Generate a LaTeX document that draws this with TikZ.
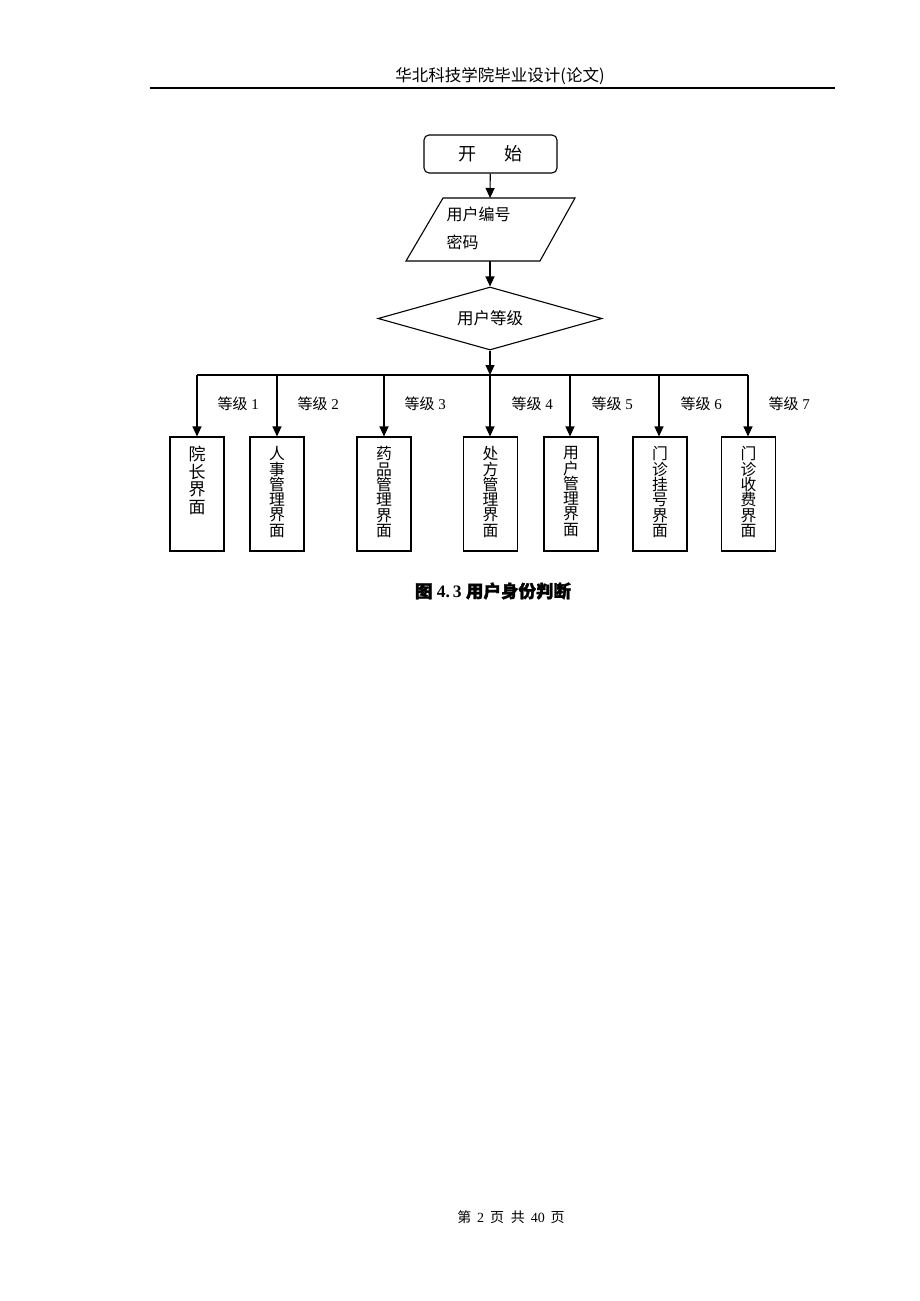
\documentclass[tikz,border=0pt]{standalone}
\usepackage{fontspec}
\setmainfont{Liberation Serif}
\newfontfamily\cjk{Noto Sans CJK SC}
\newfontfamily\cjkb[FakeBold=1.5]{Noto Sans CJK SC}
\usetikzlibrary{arrows.meta,shapes.geometric}
\begin{document}
\begin{tikzpicture}[x=1pt,y=-1pt,line width=1.1pt,
  >={Triangle[length=10pt,width=9pt]},
  box/.style={draw,minimum width=54pt,minimum height=114pt,inner sep=0pt},
  lbl/.style={font=\fontsize{15}{15}\selectfont,anchor=west,inner sep=0pt},
  vt/.style={font=\cjk\fontsize{15.8}{15.3}\selectfont,align=center,anchor=north,inner sep=0pt},
  vtb/.style={font=\cjk\fontsize{17}{17.5}\selectfont,align=center,anchor=north,inner sep=0pt},
  txt/.style={font=\cjk\fontsize{16}{16}\selectfont,inner sep=0pt}]
\useasboundingbox (0,0) rectangle (920,1301);
% header
\node[txt,font=\cjk\fontsize{16.5}{16.5}\selectfont] (hdr) at (500,76) {华北科技学院毕业设计(论文)};
\coordinate (hl) at (150,88);
\coordinate (hr) at (835,88);
\draw[line width=1.2pt] (hl) -- (hr);
% start
\node[draw,rounded corners=5pt,minimum width=133pt,minimum height=38pt,font=\cjk\fontsize{18}{18}\selectfont] (start) at (490.5,154) {开\hspace{1.6em}始};
% input parallelogram
\coordinate (p1) at (406,261);
\coordinate (p2) at (540,261);
\coordinate (p3) at (575,198);
\coordinate (p4) at (443,198);
\draw (p1) -- (p2) -- (p3) -- (p4) -- cycle;
\coordinate (inT) at (490,198);
\coordinate (inB) at (490,261);
\node[txt,anchor=west] (in1) at (446,214) {用户编号};
\node[txt,anchor=west] (in2) at (446,242) {密码};
\draw[->] (start) -- (inT);
% diamond
\node[draw,diamond,aspect=3.55,minimum width=224pt,minimum height=63pt,inner sep=0pt,font=\cjk\fontsize{16.5}{16.5}\selectfont] (dia) at (490,318.5) {用户等级};
\draw[->] (inB) -- (dia.north);
% bus
\coordinate (c1) at (197,375);
\coordinate (c2) at (277,375);
\coordinate (c3) at (384,375);
\coordinate (c4) at (490,375);
\coordinate (c5) at (570,375);
\coordinate (c6) at (659,375);
\coordinate (c7) at (748,375);
\draw[->] (dia.south) -- (c4);
\draw (c1) -- (c7);
% boxes
\node[box] (b1) at (197,494) {};
\node[box] (b2) at (277,494) {};
\node[box] (b3) at (384,494) {};
\node[box] (b4) at (490.5,494) {};
\node[box] (b5) at (571,494) {};
\node[box] (b6) at (660,494) {};
\node[box] (b7) at (748.5,494) {};
\foreach \i in {1,...,7} {\draw[->] (c\i) -- (c\i |- b\i.north);}
% labels
\node[lbl] (l1) at (217,404) {{\cjk 等级} 1};
\node[lbl] (l2) at (297,404) {{\cjk 等级} 2};
\node[lbl] (l3) at (404,404) {{\cjk 等级} 3};
\node[lbl] (l4) at (511,404) {{\cjk 等级} 4};
\node[lbl] (l5) at (591,404) {{\cjk 等级} 5};
\node[lbl] (l6) at (680,404) {{\cjk 等级} 6};
\node[lbl] (l7) at (768,404) {{\cjk 等级} 7};
% box texts
\node[vtb] (t1) at (197,446) {院\\长\\界\\面};
\node[vt] (t2) at (277,446) {人\\事\\管\\理\\界\\面};
\node[vt] (t3) at (384,446) {药\\品\\管\\理\\界\\面};
\node[vt] (t4) at (490.5,446) {处\\方\\管\\理\\界\\面};
\node[vt] (t5) at (571,446) {用\\户\\管\\理\\界\\面};
\node[vt] (t6) at (660,446) {门\\诊\\挂\\号\\界\\面};
\node[vt] (t7) at (748.5,446) {门\\诊\\收\\费\\界\\面};
% caption
\node[inner sep=0pt,font=\bfseries\fontsize{17.5}{17.5}\selectfont] (cap) at (493,591) {{\cjkb 图} 4.\,3 {\cjkb 用户身份判断}};
% footer
\node[inner sep=0pt,font=\fontsize{14}{14}\selectfont] (foot) at (511,1217) {{\cjk 第}\ \,2\ \,{\cjk 页}\ \ {\cjk 共}\ \,40\ \,{\cjk 页}};
\end{tikzpicture}
\end{document}
